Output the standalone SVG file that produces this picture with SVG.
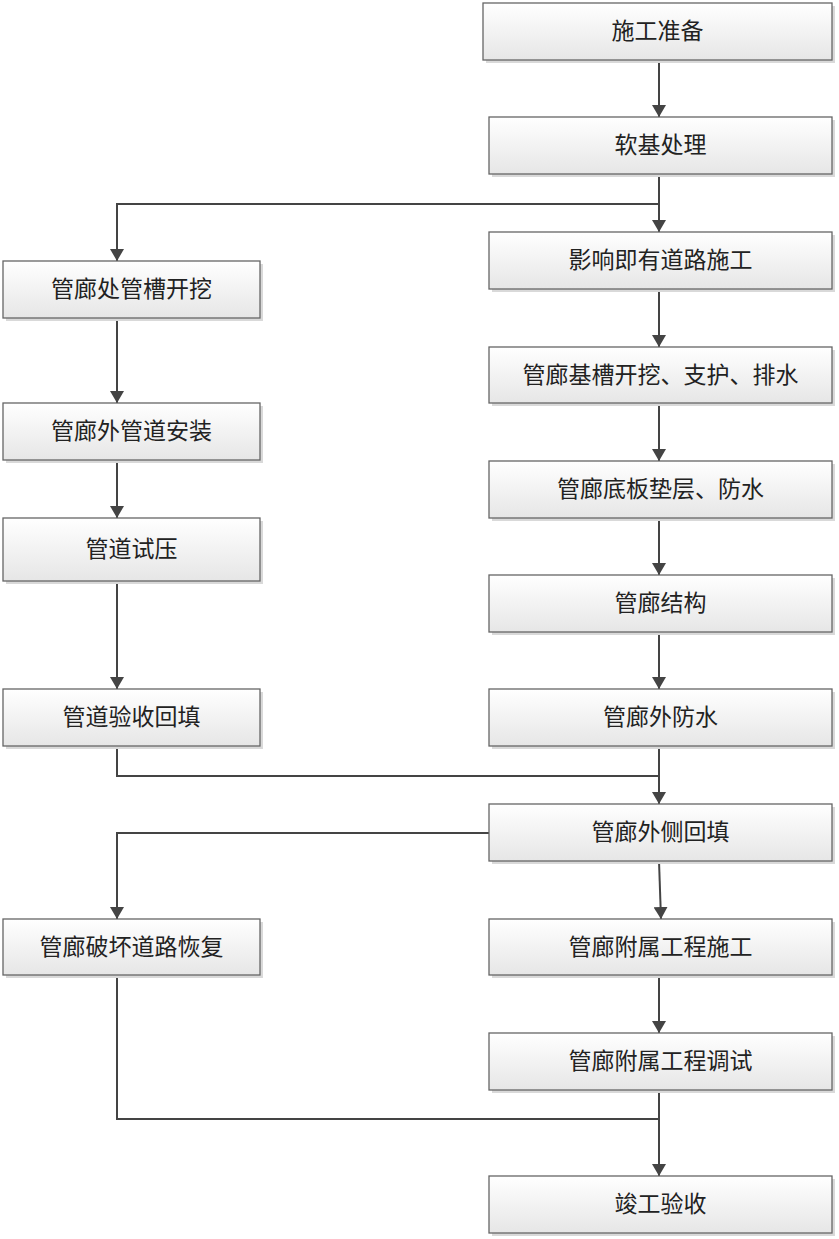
<svg xmlns="http://www.w3.org/2000/svg" width="839" height="1239" viewBox="0 0 839 1239">
<style>
.box{fill:url(#g);stroke:#666;stroke-width:1.3}
.sh{fill:#d9d9d9}
.t{font-family:"Liberation Serif","Noto Sans CJK SC",serif;font-size:23px;fill:#222;text-anchor:middle;dominant-baseline:central}
.c{fill:none;stroke:#444;stroke-width:2}
</style>
<defs>
<linearGradient id="g" x1="0" y1="0" x2="0" y2="1">
<stop offset="0" stop-color="#ffffff"/>
<stop offset="1" stop-color="#e6e6e6"/>
</linearGradient>
<marker id="a" viewBox="0 0 12 14" refX="12" refY="7" markerWidth="12" markerHeight="14" markerUnits="userSpaceOnUse" orient="auto">
<path d="M0,0 L12,7 L0,14 z" fill="#444"/>
</marker>
</defs>
<rect width="839" height="1239" fill="#fff"/>
<g id="connectors">
<path class="c" d="M659,60 V117" marker-end="url(#a)"/>
<path class="c" d="M659,174 V232" marker-end="url(#a)"/>
<path class="c" d="M659,204 H117 V261" marker-end="url(#a)"/>
<path class="c" d="M659,289 V347" marker-end="url(#a)"/>
<path class="c" d="M659,403 V461" marker-end="url(#a)"/>
<path class="c" d="M659,518 V575" marker-end="url(#a)"/>
<path class="c" d="M659,632 V689" marker-end="url(#a)"/>
<path class="c" d="M659,746 V804" marker-end="url(#a)"/>
<path class="c" d="M117,318 V403" marker-end="url(#a)"/>
<path class="c" d="M117,460 V518" marker-end="url(#a)"/>
<path class="c" d="M117,581 V689" marker-end="url(#a)"/>
<path class="c" d="M117,746 V776 H659"/>
<path class="c" d="M489,833 H117 V919" marker-end="url(#a)"/>
<path class="c" d="M659,861 L661,919" marker-end="url(#a)"/>
<path class="c" d="M659,975 V1033" marker-end="url(#a)"/>
<path class="c" d="M659,1090 V1176" marker-end="url(#a)"/>
<path class="c" d="M117,975 V1119 H659"/>
</g>
<g id="n1"><rect class="sh" x="486" y="6" width="349" height="57"/><rect class="box" x="483" y="3" width="349" height="57"/><text class="t" x="657.5" y="31.5">施工准备</text></g>
<g id="n2"><rect class="sh" x="492" y="120" width="343" height="57"/><rect class="box" x="489" y="117" width="343" height="57"/><text class="t" x="660.5" y="145.5">软基处理</text></g>
<g id="n3"><rect class="sh" x="492" y="235" width="343" height="57"/><rect class="box" x="489" y="232" width="343" height="57"/><text class="t" x="660.5" y="260.5">影响即有道路施工</text></g>
<g id="n4"><rect class="sh" x="492" y="350" width="343" height="56"/><rect class="box" x="489" y="347" width="343" height="56"/><text class="t" x="660.5" y="375">管廊基槽开挖、支护、排水</text></g>
<g id="n5"><rect class="sh" x="492" y="464" width="343" height="57"/><rect class="box" x="489" y="461" width="343" height="57"/><text class="t" x="660.5" y="489.5">管廊底板垫层、防水</text></g>
<g id="n6"><rect class="sh" x="492" y="578" width="343" height="57"/><rect class="box" x="489" y="575" width="343" height="57"/><text class="t" x="660.5" y="603.5">管廊结构</text></g>
<g id="n7"><rect class="sh" x="492" y="692" width="343" height="57"/><rect class="box" x="489" y="689" width="343" height="57"/><text class="t" x="660.5" y="717.5">管廊外防水</text></g>
<g id="n8"><rect class="sh" x="492" y="807" width="343" height="57"/><rect class="box" x="489" y="804" width="343" height="57"/><text class="t" x="660.5" y="832.5">管廊外侧回填</text></g>
<g id="n9"><rect class="sh" x="492" y="922" width="343" height="56"/><rect class="box" x="489" y="919" width="343" height="56"/><text class="t" x="660.5" y="947">管廊附属工程施工</text></g>
<g id="n10"><rect class="sh" x="492" y="1036" width="343" height="57"/><rect class="box" x="489" y="1033" width="343" height="57"/><text class="t" x="660.5" y="1061.5">管廊附属工程调试</text></g>
<g id="n11"><rect class="sh" x="492" y="1179" width="343" height="57"/><rect class="box" x="489" y="1176" width="343" height="57"/><text class="t" x="660.5" y="1204.5">竣工验收</text></g>
<g id="l1"><rect class="sh" x="6" y="264" width="257" height="57"/><rect class="box" x="3" y="261" width="257" height="57"/><text class="t" x="131.5" y="289.5">管廊处管槽开挖</text></g>
<g id="l2"><rect class="sh" x="6" y="406" width="257" height="57"/><rect class="box" x="3" y="403" width="257" height="57"/><text class="t" x="131.5" y="431.5">管廊外管道安装</text></g>
<g id="l3"><rect class="sh" x="6" y="521" width="257" height="63"/><rect class="box" x="3" y="518" width="257" height="63"/><text class="t" x="131.5" y="549">管道试压</text></g>
<g id="l4"><rect class="sh" x="6" y="692" width="257" height="57"/><rect class="box" x="3" y="689" width="257" height="57"/><text class="t" x="131.5" y="717.5">管道验收回填</text></g>
<g id="l5"><rect class="sh" x="6" y="922" width="257" height="56"/><rect class="box" x="3" y="919" width="257" height="56"/><text class="t" x="131.5" y="947">管廊破坏道路恢复</text></g>
</svg>
